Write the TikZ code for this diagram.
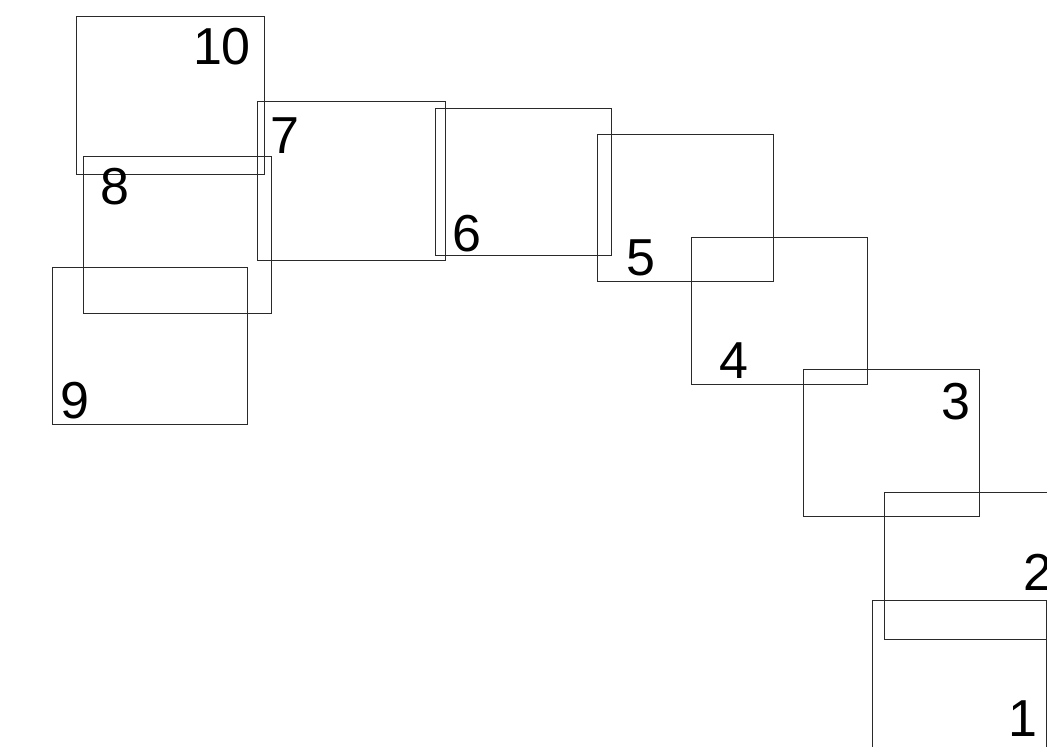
\documentclass[tikz,border=0pt]{standalone}
\usepackage{fontspec}
\setmainfont{Liberation Sans}
\usetikzlibrary{positioning}
\definecolor{FrameGray}{HTML}{2A2A2A}

\begin{document}
\begin{tikzpicture}[x=1pt, y=-1pt,
    frame/.style={draw=FrameGray, line width=1pt, inner sep=0pt, outer sep=0pt},
    num/.style={inner sep=0pt, font=\fontsize{52}{60}\selectfont}]
    \useasboundingbox (0,0) rectangle (1047,747);
    \clip (0,0) rectangle (1047,747);
    % frames, numbered from the bottom right
    \node[frame, minimum width=174pt, minimum height=150pt] (box1) at (959,675) {};
    \node[frame, minimum width=176pt, minimum height=147pt] (box2) at (972,565.5) {};
    \node[frame, minimum width=176pt, minimum height=147pt] (box3) at (891,442.5) {};
    \node[frame, minimum width=176pt, minimum height=147pt] (box4) at (779,310.5) {};
    \node[frame, minimum width=176pt, minimum height=147pt] (box5) at (685,207.5) {};
    \node[frame, minimum width=176pt, minimum height=147pt] (box6) at (523,181.5) {};
    \node[frame, minimum width=188pt, minimum height=159pt] (box7) at (351,180.5) {};
    \node[frame, minimum width=188pt, minimum height=157pt] (box8) at (177,234.5) {};
    \node[frame, minimum width=195pt, minimum height=157pt] (box9) at (149.5,345.5) {};
    \node[frame, minimum width=188pt, minimum height=158pt] (box10) at (170,95) {};
    % numbers
    \node[num] (num1) at (1022.5,718.3) {1};
    \node[num] (num2) at (1038,572.8) {2};
    \node[num] (num3) at (955.8,402) {3};
    \node[num] (num4) at (733.7,360.5) {4};
    \node[num] (num5) at (640.5,257.5) {5};
    \node[num] (num6) at (467,233.3) {6};
    \node[num] (num7) at (285,135.5) {7};
    \node[num] (num8) at (115,187) {8};
    \node[num] (num9) at (74.7,400.5) {9};
    \node[num] (num10) at (222,47) {10};
\end{tikzpicture}
\end{document}
